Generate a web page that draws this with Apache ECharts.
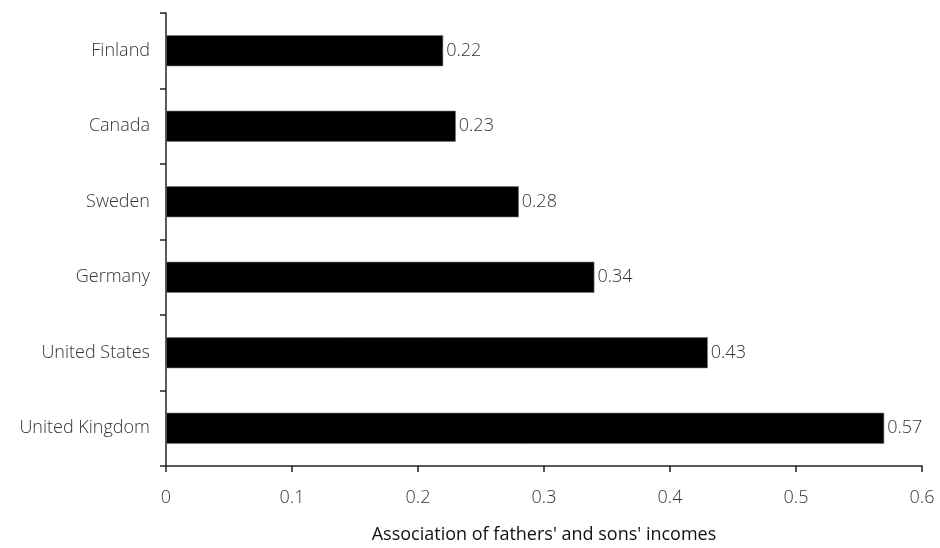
<!DOCTYPE html>
<html>
<head>
<meta charset="utf-8">
<script src="https://cdn.jsdelivr.net/npm/echarts@6/dist/echarts.min.js"></script>
<style>
html,body{margin:0;padding:0;background:#fff;}
#chart{width:940px;height:548px;}
</style>
</head>
<body>
<div id="chart"></div>
<script>
const countries = ["United Kingdom", "United States", "Germany", "Sweden", "Canada", "Finland"];
const values = [0.57, 0.43, 0.34, 0.28, 0.23, 0.22];
const xTicks = [0, 0.1, 0.2, 0.3, 0.4, 0.5, 0.6];
const xTitle = "Association of fathers' and sons' incomes";

const chart = echarts.init(document.getElementById('chart'), null, {renderer: 'canvas'});
const font = "'Open Sans', 'Noto Sans', sans-serif";
chart.setOption({
  animation: false,
  backgroundColor: '#ffffff',
  grid: {left: 166, right: 18, top: 13, bottom: 82, containLabel: false, outerBoundsMode: 'none'},
  xAxis: {
    type: 'value',
    min: xTicks[0],
    max: xTicks[xTicks.length - 1],
    interval: 0.1,
    name: xTitle,
    nameLocation: 'middle',
    nameGap: 60,
    nameTextStyle: {fontFamily: font, fontSize: 18, color: '#111'},
    axisLine: {show: true, lineStyle: {color: '#222', width: 1.5}},
    axisTick: {show: true, length: 6, lineStyle: {color: '#222', width: 1.5}},
    axisLabel: {margin: 23, fontFamily: font, fontSize: 18, fontWeight: 300, color: '#333',
      formatter: v => String(+v.toFixed(1))},
    splitLine: {show: false}
  },
  yAxis: {
    type: 'category',
    data: countries,
    axisLine: {show: true, lineStyle: {color: '#222', width: 1.5}},
    axisTick: {show: true, length: 6, alignWithLabel: false, lineStyle: {color: '#222', width: 1.5}},
    axisLabel: {margin: 16, fontFamily: font, fontSize: 18, fontWeight: 300, color: '#333'},
    splitLine: {show: false}
  },
  series: [{
    type: 'bar',
    data: values,
    barWidth: 31,
    itemStyle: {color: '#000', borderColor: '#777', borderWidth: 0.6},
    label: {show: true, position: 'right', distance: 3, fontFamily: font, fontSize: 18, fontWeight: 300, color: '#333',
      formatter: p => p.value.toFixed(2)}
  }]
});
</script>
</body>
</html>
